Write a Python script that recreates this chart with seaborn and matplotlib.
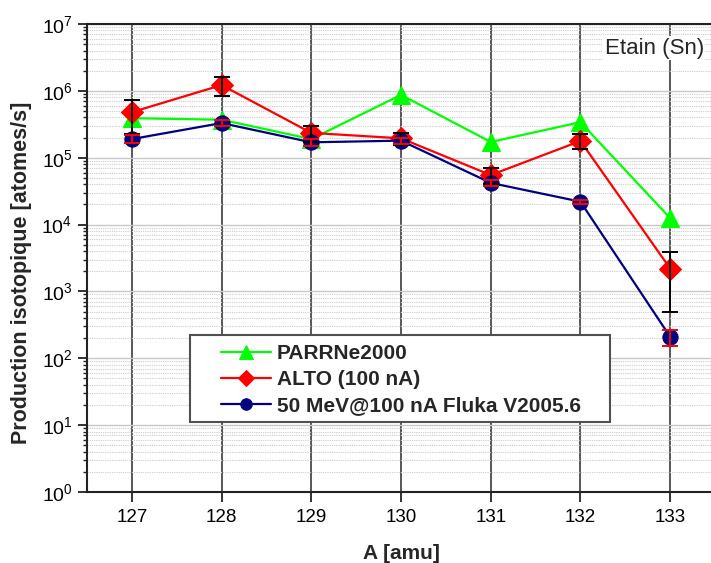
import matplotlib
matplotlib.use("Agg")
import matplotlib.pyplot as plt
from matplotlib.ticker import LogLocator, NullFormatter
from matplotlib.patches import Rectangle
import seaborn as sns
import pandas as pd
import numpy as np

# Data
mass = [127, 128, 129, 130, 131, 132, 133]
parrne = [3.9e5, 3.7e5, 1.9e5, 8.7e5, 1.72e5, 3.4e5, 1.25e4]
alto = [4.8e5, 1.22e6, 2.35e5, 1.95e5, 5.5e4, 1.78e5, 2.2e3]
alto_err = [2.5e5, 3.7e5, 6.5e4, 4.0e4, 1.5e4, 4.5e4, 1.7e3]
fluka = [1.9e5, 3.3e5, 1.7e5, 1.8e5, 4.2e4, 2.2e4, 210]
fluka_err = [2.5e4, 3.5e4, 2.0e4, 2.0e4, 4.0e3, 1.5e3, 55]

labels = ["PARRNe2000", "ALTO (100 nA)", "50 MeV@100 nA Fluka V2005.6"]

sns.set_style("white")
plt.rcParams['font.family'] = ['Liberation Sans', 'DejaVu Sans']
plt.rcParams['mathtext.default'] = 'regular'

fig = plt.figure(figsize=(7.11, 5.63), dpi=100)
ax = fig.add_axes([87 / 711, 71 / 563, 628 / 711, 468 / 563])

df = pd.DataFrame({'A': mass, 'parrne': parrne, 'alto': alto, 'fluka': fluka})

sns.lineplot(data=df, x='A', y='parrne', ax=ax, color='#00ff00', lw=1.6,
             marker='^', markersize=13, markeredgecolor='#00ff00',
             label=labels[0], zorder=3)
sns.lineplot(data=df, x='A', y='alto', ax=ax, color='#ff0000', lw=1.6,
             marker='D', markersize=11, markeredgecolor='#ff0000',
             label=labels[1], zorder=4)
sns.lineplot(data=df, x='A', y='fluka', ax=ax, color='#000080', lw=1.6,
             marker='o', markersize=11, markeredgecolor='#000080',
             label=labels[2], zorder=5)

# error bars on top of the markers
ax.errorbar(mass, alto, yerr=alto_err, fmt='none', ecolor='black',
            elinewidth=1.4, capsize=6, capthick=1.4, zorder=6)
ax.errorbar(mass, fluka, yerr=fluka_err, fmt='none', ecolor='#ff0000',
            elinewidth=1.4, capsize=6, capthick=1.4, zorder=7)

ax.set_yscale('log')
ax.set_ylim(1, 1e7)
ax.set_xlim(126.5, 133.5)
ax.set_xticks(mass)
ax.yaxis.set_major_locator(LogLocator(base=10, numticks=10))
ax.yaxis.set_minor_locator(LogLocator(base=10, subs=np.arange(2, 10), numticks=20))
ax.yaxis.set_minor_formatter(NullFormatter())

ax.set_axisbelow(True)
ax.grid(which='major', axis='x', color='#4a4a4a', lw=1.3)
ax.grid(which='major', axis='y', color='#c8c8c8', lw=1.0)
ax.grid(which='minor', axis='y', color='#cccccc', lw=0.8, ls=(0, (1, 1)))

for side in ['left', 'bottom', 'top', 'right']:
    ax.spines[side].set_color('#222222')
    ax.spines[side].set_linewidth(1.5)

ax.tick_params(axis='x', which='major', direction='out', length=7, width=1.3,
               labelsize=13.5, pad=5, bottom=True, colors='#222222')
ax.tick_params(axis='y', which='major', direction='out', length=6.5, width=1.3,
               labelsize=14, pad=4, left=True, colors='#222222')
ax.tick_params(axis='y', which='minor', direction='out', length=3, width=1.0,
               left=True, colors='#222222')
ax.tick_params(labelcolor='black')

ax.set_xlabel("A [amu]", fontsize=15, fontweight='bold', labelpad=13)
ax.set_ylabel("Production isotopique [atomes/s]", fontsize=15.5, fontweight='bold')
ax.yaxis.set_label_coords(-0.088, 0.468)

ax.text(0.9825, 0.9487, "Etain (Sn)", transform=ax.transAxes, ha='right',
        va='center', fontsize=16,
        bbox=dict(facecolor='white', edgecolor='none', pad=1))

# legend box and entries
ax.add_patch(Rectangle((0.164, 0.1496), 0.669, 0.186, transform=ax.transAxes,
                       facecolor='white', edgecolor='#505050', lw=1.5, zorder=8))
leg = ax.legend(loc='center left', bbox_to_anchor=(0.213, 0.240), frameon=False,
                borderpad=0, borderaxespad=0, handlelength=2.4, handletextpad=0.3,
                labelspacing=0.33, markerscale=0.75,
                prop={'weight': 'bold', 'size': 15})
leg.set_zorder(9)

fig.savefig("out.png", dpi=100)
